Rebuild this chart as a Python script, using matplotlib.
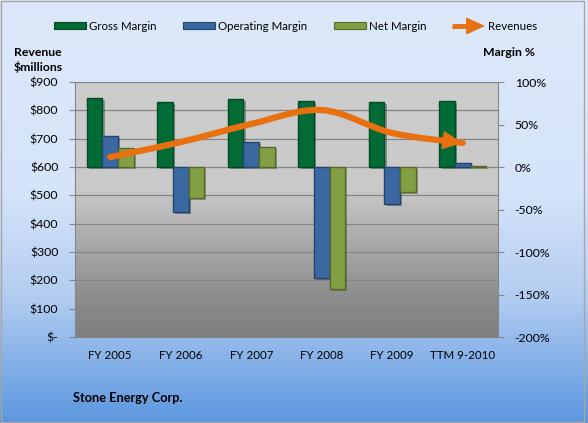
"""
Stone Energy Corp. - margins (bars, right axis) and revenues (smoothed
line with arrow head, left axis), Excel-style chart.
"""

import matplotlib
import matplotlib.pyplot as plt
import matplotlib.patheffects as pe
import numpy as np
from matplotlib.colors import LinearSegmentedColormap
from matplotlib.lines import Line2D
from matplotlib.patches import FancyArrowPatch, PathPatch, Rectangle
from matplotlib.path import Path

matplotlib.use("Agg")

years = ["FY 2005", "FY 2006", "FY 2007", "FY 2008", "FY 2009", "TTM 9-2010"]
revenues = [635, 688, 752, 801, 720, 685]          # $ millions
gross_margin = [81, 76, 80, 78, 76, 78]            # %
operating_margin = [37, -53, 30, -130, -43, 5]     # %
net_margin = [22, -36, 24, -144, -29, 1.5]         # %

rev_ticks = list(range(0, 1000, 100))
rev_labels = ["$-"] + ["$%d" % v for v in rev_ticks[1:]]
pct_ticks = list(range(-200, 150, 50))
pct_labels = ["%d%%" % v for v in pct_ticks]

GREEN = "#036b35"
BLUE = "#3b68a0"
OLIVE = "#82a043"
ORANGE = "#e8700f"
FONT = "Lato"
HEAD = "-|>,head_length=1.3,head_width=0.6"

plt.rcParams["font.family"] = [FONT, "DejaVu Sans"]


def smooth_path(xs, ys):
    """Bezier path through the points (Excel 'smoothed line' look)."""
    pts = list(zip(xs, ys))
    verts = [pts[0]]
    codes = [Path.MOVETO]
    n = len(pts)
    for i in range(n - 1):
        p0 = pts[max(i - 1, 0)]
        p1 = pts[i]
        p2 = pts[i + 1]
        p3 = pts[min(i + 2, n - 1)]
        c1 = (p1[0] + (p2[0] - p0[0]) / 6, p1[1] + (p2[1] - p0[1]) / 6)
        c2 = (p2[0] - (p3[0] - p1[0]) / 6, p2[1] - (p3[1] - p1[1]) / 6)
        verts += [c1, c2, p2]
        codes += [Path.CURVE4] * 3
    return Path(verts, codes)


def draw_chart():
    fig = plt.figure(figsize=(5.88, 4.23), dpi=100)

    # figure background gradient
    bg = fig.add_axes([0, 0, 1, 1], zorder=-10)
    bg_cmap = LinearSegmentedColormap.from_list(
        "bg", [(0, "#dde9fb"), (0.45, "#d6e4f9"), (0.7, "#b3cdf1"), (1, "#5c97df")])
    bg.imshow(np.linspace(0, 1, 256).reshape(-1, 1), cmap=bg_cmap,
              aspect="auto", extent=[0, 1, 0, 1])
    bg.set_axis_off()
    bg.add_patch(Rectangle((0.001, 0.002), 0.993, 0.995, fill=False,
                           edgecolor="#a6a6a6", linewidth=1))

    x = np.arange(len(years))
    ax = fig.add_axes([75 / 588, 86 / 423, 423 / 588, 255 / 423])
    ax.set_xlim(-0.5, len(years) - 0.5)
    ax.set_ylim(0, 900)

    # plot area gradient
    pa_cmap = LinearSegmentedColormap.from_list(
        "pa", [(0, "#cdcdcd"), (0.42, "#c9c9c9"), (0.62, "#ababab"),
               (0.85, "#8c8c8c"), (1, "#7f7f7f")])
    ax.imshow(np.linspace(0, 1, 256).reshape(-1, 1), cmap=pa_cmap,
              aspect="auto", extent=[-0.5, len(years) - 0.5, 0, 900], zorder=0)

    ax.set_yticks(rev_ticks)
    ax.set_yticklabels(rev_labels)
    ax.grid(axis="y", color="#858585", linewidth=0.9, zorder=1)
    ax.set_axisbelow(True)
    ax.set_xticks(x)
    ax.set_xticklabels(years)
    ax.tick_params(axis="x", length=0, pad=9, labelsize=8.3, colors="black")
    ax.tick_params(axis="y", length=4, color="#858585", pad=8, labelsize=8.8)
    for side in ["top", "right"]:
        ax.spines[side].set_visible(False)
    ax.spines["left"].set_color("#868686")
    ax.spines["bottom"].set_color("#868686")

    # margin bars on right axis
    ax2 = ax.twinx()
    ax2.set_ylim(-200, 100)
    ax2.set_yticks(pct_ticks)
    ax2.set_yticklabels(pct_labels)
    ax2.tick_params(axis="y", length=4, color="#858585", pad=8, labelsize=8.8)
    for side in ["top", "left", "bottom"]:
        ax2.spines[side].set_visible(False)
    ax2.spines["right"].set_color("#868686")

    width = 0.22
    shadow = [pe.SimplePatchShadow(offset=(1.5, -1.5), alpha=0.35), pe.Normal()]
    for offset, values, color, edge in [
            (-width, gross_margin, GREEN, "#024a24"),
            (0, operating_margin, BLUE, "#23446e"),
            (width, net_margin, OLIVE, "#566b28")]:
        bars = ax2.bar(x + offset, values, width, color=color,
                       edgecolor=edge, linewidth=1.0, zorder=2)
        for b in bars:
            b.set_path_effects(shadow)

    # revenue smoothed line, arrow head drawn with a thin outline
    ax3 = ax.twinx()
    ax3.set_ylim(ax.get_ylim())
    ax3.set_axis_off()
    rev_path = smooth_path(x, revenues)
    ax3.add_patch(PathPatch(rev_path, fill=False, edgecolor=ORANGE,
                            linewidth=4.5, capstyle="round", joinstyle="round"))
    ax3.add_patch(FancyArrowPatch(path=rev_path, arrowstyle=HEAD,
                                  mutation_scale=10, color=ORANGE,
                                  linewidth=1.0, shrinkA=0, shrinkB=0))

    # axis titles
    fig.text(14 / 588, 1 - 52 / 423, "Revenue", fontsize=8.8,
             fontweight="bold", va="center")
    fig.text(14 / 588, 1 - 67 / 423, "$millions", fontsize=8.8,
             fontweight="bold", va="center")
    fig.text(535 / 588, 1 - 52 / 423, "Margin %", fontsize=8.8,
             fontweight="bold", va="center", ha="right")
    fig.text(73 / 588, 1 - 398 / 423, "Stone Energy Corp.", fontsize=9.2,
             fontweight="bold", va="center")

    # legend row
    ly = 1 - 26 / 423
    for x0, label, color, edge in [(54, "Gross Margin", GREEN, "#024a24"),
                                   (183, "Operating Margin", BLUE, "#23446e"),
                                   (334, "Net Margin", OLIVE, "#566b28")]:
        fig.patches.append(Rectangle((x0 / 588, ly - 3.5 / 423), 32 / 588, 7 / 423,
                                     transform=fig.transFigure, facecolor=color,
                                     edgecolor=edge, linewidth=0.8))
        fig.text((x0 + 35) / 588, ly, label, fontsize=8.3, va="center")
    fig.lines.append(Line2D([452 / 588, 474 / 588], [ly, ly],
                            transform=fig.transFigure, color=ORANGE,
                            linewidth=3.5, solid_capstyle="butt"))
    fig.patches.append(FancyArrowPatch((470 / 588, ly), (485 / 588, ly),
                                       transform=fig.transFigure,
                                       arrowstyle="-|>,head_length=1.2,head_width=0.55",
                                       mutation_scale=10, color=ORANGE,
                                       linewidth=1.0, shrinkA=0, shrinkB=0))
    fig.text(488 / 588, ly, "Revenues", fontsize=8.3, va="center")

    fig.savefig("out.png", dpi=100)


if __name__ == "__main__":
    draw_chart()
